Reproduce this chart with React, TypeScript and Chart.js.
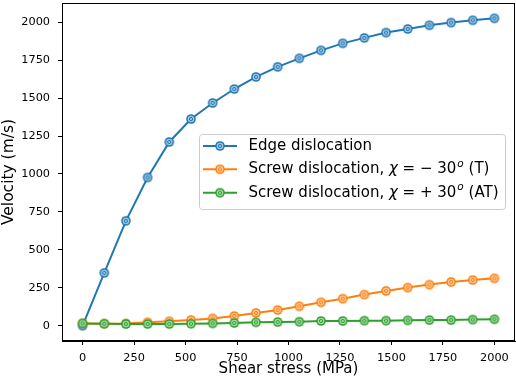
import React, { useEffect, useRef } from "react";
import { Chart, registerables } from "chart.js";

Chart.register(...registerables);

const shearStress = [0, 105.3, 210.5, 315.8, 421.1, 526.3, 631.6, 736.8, 842.1, 947.4, 1052.6, 1157.9, 1263.2, 1368.4, 1473.7, 1578.9, 1684.2, 1789.5, 1894.7, 2000];
const edgeVelocity = [0, 348, 691, 977, 1211, 1362, 1468, 1560, 1640, 1706, 1762, 1815, 1861, 1897, 1932, 1956, 1980, 1998, 2013, 2026];
const screwTVelocity = [15, 13, 15, 22, 29, 37, 48, 64, 84, 103, 128, 154, 178, 205, 229, 251, 271, 288, 301, 312];
const screwATVelocity = [15, 13, 11, 11, 11, 13, 15, 18, 22, 24, 26, 31, 31, 33, 33, 35, 37, 37, 40, 42];

const xTicks = [0, 250, 500, 750, 1000, 1250, 1500, 1750, 2000];
const yTicks = [0, 250, 500, 750, 1000, 1250, 1500, 1750, 2000];

const seriesNames = ["Edge dislocation", "Screw dislocation, χ = −30ᵒ (T)", "Screw dislocation, χ = +30ᵒ (AT)"];
const seriesColors = ["#1f77b4", "#ff7f0e", "#2ca02c"];

// legend rich-text segments: [text, style] where style: n normal, i italic, s superscript italic
const legendSegments: [string, string][][] = [
  [["Edge dislocation", "n"]],
  [["Screw dislocation, ", "n"], ["χ", "i"], [" = − 30", "n"], ["o", "s"], [" (T)", "n"]],
  [["Screw dislocation, ", "n"], ["χ", "i"], [" = + 30", "n"], ["o", "s"], [" (AT)", "n"]],
];

const FONT = "'DejaVu Sans', sans-serif";

function makeMarker(color: string): HTMLCanvasElement {
  const c = document.createElement("canvas");
  c.width = 12;
  c.height = 12;
  const g = c.getContext("2d")!;
  g.beginPath();
  g.arc(6, 6, 4.8, 0, Math.PI * 2);
  g.fillStyle = color;
  g.fill();
  g.beginPath();
  g.arc(6, 6, 3.3, 0, Math.PI * 2);
  g.fillStyle = "rgba(255,255,255,0.6)";
  g.fill();
  g.beginPath();
  g.arc(6, 6, 1.6, 0, Math.PI * 2);
  g.strokeStyle = color;
  g.lineWidth = 1;
  g.stroke();
  return c;
}

function zeroPadding(s: any) {
  s.paddingLeft = 0;
  s.paddingRight = 0;
  s.paddingTop = 0;
  s.paddingBottom = 0;
}

const framePlugin = {
  id: "frameAndLegend",
  afterDraw(chart: any) {
    const ctx = chart.ctx as CanvasRenderingContext2D;
    const a = chart.chartArea;
    ctx.save();
    ctx.strokeStyle = "#000";
    ctx.lineWidth = 1;
    ctx.strokeRect(Math.round(a.left) + 0.5, Math.round(a.top) + 0.5, Math.round(a.right - a.left) - 1, Math.round(a.bottom - a.top) - 1);

    // legend
    const bx = 199.5, by = 134.5, bw = 306, bh = 75, r = 3;
    ctx.beginPath();
    ctx.moveTo(bx + r, by);
    ctx.lineTo(bx + bw - r, by);
    ctx.quadraticCurveTo(bx + bw, by, bx + bw, by + r);
    ctx.lineTo(bx + bw, by + bh - r);
    ctx.quadraticCurveTo(bx + bw, by + bh, bx + bw - r, by + bh);
    ctx.lineTo(bx + r, by + bh);
    ctx.quadraticCurveTo(bx, by + bh, bx, by + bh - r);
    ctx.lineTo(bx, by + r);
    ctx.quadraticCurveTo(bx, by, bx + r, by);
    ctx.closePath();
    ctx.fillStyle = "rgba(255,255,255,0.8)";
    ctx.fill();
    ctx.strokeStyle = "#cccccc";
    ctx.stroke();

    const rows = [146, 169.3, 192.7];
    chart.data.datasets.forEach((ds: any, i: number) => {
      const y = rows[i];
      ctx.strokeStyle = ds.borderColor;
      ctx.lineWidth = 2;
      ctx.beginPath();
      ctx.moveTo(203, y);
      ctx.lineTo(237, y);
      ctx.stroke();
      const img = ds.pointStyle as HTMLCanvasElement;
      ctx.drawImage(img, 220 - 6, y - 6);
      let x = 248.5;
      ctx.fillStyle = "#000";
      ctx.textBaseline = "middle";
      ctx.textAlign = "left";
      for (const [txt, st] of legendSegments[i]) {
        if (st === "n") {
          ctx.font = `15px ${FONT}`;
          ctx.fillText(txt, x, y);
        } else if (st === "i") {
          ctx.font = `oblique 15px ${FONT}`;
          ctx.fillText(txt, x, y);
        } else {
          ctx.font = `oblique 10.5px ${FONT}`;
          ctx.fillText(txt, x + 1, y - 5);
        }
        x += ctx.measureText(txt).width + (st === "s" ? 1 : 0);
      }
    });
    ctx.restore();
  },
};

export default function App() {
  const ref = useRef<HTMLCanvasElement | null>(null);
  useEffect(() => {
    document.body.style.margin = "0";
    const markers = seriesColors.map(makeMarker);
    const seriesData = [edgeVelocity, screwTVelocity, screwATVelocity];
    const chart = new Chart(ref.current!, {
      type: "line",
      data: {
        datasets: seriesData.map((vals, i) => ({
          label: seriesNames[i],
          data: vals.map((v, j) => ({ x: shearStress[j], y: v })),
          borderColor: seriesColors[i],
          backgroundColor: seriesColors[i],
          borderWidth: 2,
          pointStyle: markers[i] as any,
          pointRadius: 5,
          tension: 0,
          order: 3 - i,
        })),
      },
      options: {
        animation: false,
        responsive: false,
        events: [],
        layout: { autoPadding: false, padding: { top: 3, right: 1, left: 0, bottom: 0 } },
        plugins: { legend: { display: false }, tooltip: { enabled: false } },
        scales: {
          x: {
            type: "linear",
            min: -100,
            max: 2100,
            afterBuildTicks: (s: any) => {
              s.ticks = xTicks.map((v) => ({ value: v }));
            },
            afterFit: (s: any) => {
              s.height = 37;
              zeroPadding(s);
            },
            ticks: {
              color: "#000",
              font: { family: FONT, size: 11.3 },
              padding: 6,
              maxRotation: 0,
              autoSkip: false,
              callback: (v: any) => String(v),
            },
            grid: { drawOnChartArea: false, drawTicks: true, tickLength: 4, color: "#000" },
            border: { display: true, color: "#000", width: 1 },
            title: {
              display: true,
              text: "Shear stress (MPa)",
              color: "#000",
              font: { family: FONT, size: 15 },
              padding: { top: 0, bottom: 0 },
            },
          },
          y: {
            type: "linear",
            min: -101,
            max: 2127,
            afterBuildTicks: (s: any) => {
              s.ticks = yTicks.map((v) => ({ value: v }));
            },
            afterFit: (s: any) => {
              s.width = 62;
              zeroPadding(s);
            },
            ticks: {
              color: "#000",
              font: { family: FONT, size: 11.3 },
              padding: 8,
              autoSkip: false,
              callback: (v: any) => String(v),
            },
            grid: { drawOnChartArea: false, drawTicks: true, tickLength: 4, color: "#000" },
            border: { display: true, color: "#000", width: 1 },
            title: {
              display: true,
              text: "Velocity (m/s)",
              color: "#000",
              font: { family: FONT, size: 15.5 },
              padding: { top: 0, bottom: 0 },
            },
          },
        },
      },
      plugins: [framePlugin],
    });
    return () => chart.destroy();
  }, []);
  return <canvas ref={ref} width={516} height={378} style={{ display: "block", width: 516, height: 378 }} />;
}
